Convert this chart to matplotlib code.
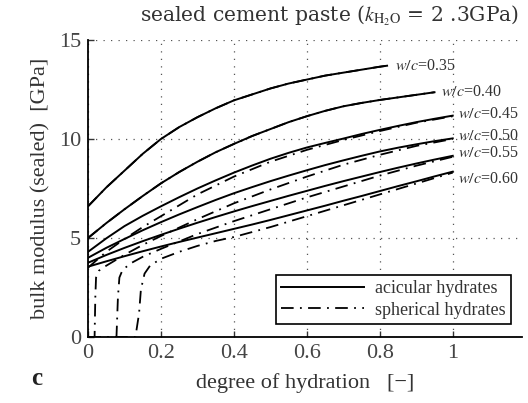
#!/usr/bin/env python

import matplotlib
matplotlib.use("Agg")
import matplotlib.pyplot as plt

plt.rcParams['font.family'] = ['Liberation Serif', 'DejaVu Serif']
plt.rcParams['mathtext.fontset'] = 'stix'

# degree of hydration grid for the acicular curves
alpha = [0.0, 0.05, 0.1, 0.15, 0.2, 0.25, 0.3, 0.35, 0.4, 0.45, 0.5,
         0.55, 0.6, 0.65, 0.7, 0.75, 0.8, 0.85, 0.9, 0.95, 1.0]

acic_035_a = [0.0, 0.05, 0.1, 0.15, 0.2, 0.25, 0.3, 0.35, 0.4, 0.45, 0.5,
              0.55, 0.6, 0.65, 0.7, 0.75, 0.8, 0.82]
acic_035 = [6.6, 7.55, 8.4, 9.25, 10.0, 10.6, 11.1, 11.55, 11.95, 12.25,
            12.55, 12.8, 13.0, 13.2, 13.35, 13.5, 13.65, 13.7]
acic_040 = [5.0, 5.75, 6.45, 7.12, 7.76, 8.33, 8.85, 9.33, 9.75, 10.15,
            10.5, 10.85, 11.15, 11.42, 11.65, 11.82, 11.97, 12.1, 12.23,
            12.36]
acic_045 = [4.3, 4.98, 5.6, 6.12, 6.6, 7.06, 7.5, 7.91, 8.3, 8.66, 9.0,
            9.3, 9.57, 9.8, 10.02, 10.25, 10.46, 10.66, 10.85, 11.02, 11.18]
acic_050 = [4.0, 4.5, 4.95, 5.39, 5.8, 6.19, 6.56, 6.92, 7.26, 7.57, 7.87,
            8.15, 8.42, 8.68, 8.92, 9.15, 9.37, 9.56, 9.73, 9.89, 10.03]
acic_055 = [3.75, 4.14, 4.5, 4.84, 5.16, 5.47, 5.77, 6.06, 6.34, 6.61, 6.87,
            7.13, 7.38, 7.63, 7.87, 8.1, 8.33, 8.55, 8.76, 8.96, 9.15]
acic_060 = [3.55, 3.82, 4.08, 4.33, 4.57, 4.8, 5.02, 5.24, 5.46, 5.68, 5.91,
            6.15, 6.39, 6.63, 6.88, 7.12, 7.37, 7.62, 7.86, 8.11, 8.35]

# spherical hydrates: zero stiffness until the solid skeleton percolates
sph_045_a = [0.0, 0.05, 0.1, 0.15, 0.2, 0.3, 0.4, 0.5, 0.6, 0.7, 0.8, 0.9,
             1.0]
sph_045 = [3.5, 4.3, 4.95, 5.55, 6.1, 7.2, 8.1, 8.85, 9.45, 9.95, 10.4,
           10.82, 11.15]
sph_050_a = [0.0, 0.018, 0.02, 0.022, 0.03, 0.05, 0.1, 0.15, 0.2, 0.3, 0.4,
             0.5, 0.6, 0.7, 0.8, 0.9, 1.0]
sph_050 = [0.0, 0.0, 2.0, 3.0, 3.35, 3.6, 4.15, 4.65, 5.1, 5.95, 6.75, 7.45,
           8.1, 8.7, 9.2, 9.65, 10.0]
sph_055_a = [0.0, 0.078, 0.082, 0.086, 0.095, 0.12, 0.15, 0.2, 0.3, 0.4,
             0.5, 0.6, 0.7, 0.8, 0.9, 1.0]
sph_055 = [0.0, 0.0, 2.0, 3.0, 3.4, 3.75, 4.05, 4.45, 5.2, 5.85, 6.45, 7.05,
           7.6, 8.15, 8.65, 9.1]
sph_060_a = [0.0, 0.13, 0.14, 0.145, 0.155, 0.17, 0.2, 0.25, 0.3, 0.35, 0.4,
             0.5, 0.6, 0.7, 0.8, 0.9, 1.0]
sph_060 = [0.0, 0.0, 1.2, 2.4, 3.2, 3.6, 3.95, 4.3, 4.6, 4.85, 5.05, 5.55,
           6.1, 6.65, 7.2, 7.75, 8.3]

wc_labels = ['0.35', '0.40', '0.45', '0.50', '0.55', '0.60']
label_x = [0.843, 0.967, 1.014, 1.014, 1.014, 1.014]
label_y = [13.7, 12.35, 11.25, 10.15, 9.3, 8.0]

DASHDOT = (0, (7, 3.5, 1, 3.5))


def main():
    fig = plt.figure(figsize=(5.28, 4.03), dpi=100)
    ax = fig.add_axes([0.1667, 0.1638, 0.822, 0.737])

    acicular = [(acic_035_a, acic_035),
                (alpha[:len(acic_040)], acic_040),
                (alpha, acic_045), (alpha, acic_050),
                (alpha, acic_055), (alpha, acic_060)]
    spherical = [(acic_035_a, acic_035),
                 (alpha[:len(acic_040)], acic_040),
                 (sph_045_a, sph_045), (sph_050_a, sph_050),
                 (sph_055_a, sph_055), (sph_060_a, sph_060)]

    for i, (x, y) in enumerate(spherical):
        ax.plot(x, y, color='black', lw=1.3, linestyle=DASHDOT,
                label='spherical hydrates' if i == 0 else None)
    for i, (x, y) in enumerate(acicular):
        ax.plot(x, y, color='black', lw=1.4,
                label='acicular hydrates' if i == 0 else None)

    for lab, lx, ly in zip(wc_labels, label_x, label_y):
        ax.text(lx, ly, r'$w/c$=' + lab, fontsize=11.5, ha='left',
                va='center', color='#333333', clip_on=False)

    ax.set_xlim(0, 1.19)
    ax.set_ylim(0, 15)
    ax.set_xticks([0, 0.2, 0.4, 0.6, 0.8, 1])
    ax.set_xticklabels(['0', '0.2', '0.4', '0.6', '0.8', '1'])
    ax.set_yticks([0, 5, 10, 15])
    ax.tick_params(direction='in', labelsize=16, length=4, width=1,
                   pad=5, colors='#333333', labelcolor='#444444')
    for side in ('top', 'right'):
        ax.spines[side].set_visible(False)
    for side in ('left', 'bottom'):
        ax.spines[side].set_linewidth(1.3)
    ax.grid(True, color='#555555', linestyle=(0, (1, 5)), linewidth=0.9)
    ax.set_axisbelow(True)

    handles, labels = ax.get_legend_handles_labels()
    order = [labels.index('acicular hydrates'),
             labels.index('spherical hydrates')]
    leg = ax.legend([handles[k] for k in order], [labels[k] for k in order],
                    loc='lower right', bbox_to_anchor=(0.975, 0.044),
                    borderaxespad=0, fontsize=13, fancybox=False,
                    framealpha=1, edgecolor='black', handlelength=4.6,
                    borderpad=0.3, labelspacing=0.25, handletextpad=0.6)
    leg.get_frame().set_linewidth(1.2)
    for t in leg.get_texts():
        t.set_color('#333333')

    ax.set_xlabel('degree of hydration   [\u2212]', fontsize=16,
                  color='#333333', labelpad=7)
    ax.set_ylabel('bulk modulus (sealed)  [GPa]', fontsize=16,
                  color='#333333', labelpad=6)

    fig.text(0.625, 0.962, r'sealed cement paste ($k_{\rm H_2O}$ = 2 .3GPa)',
             fontsize=14.6, family='DejaVu Serif', ha='center', va='center',
             color='#333333')
    fig.text(0.07, 0.062, 'c', fontsize=18, fontweight='bold',
             ha='center', va='center', color='#222222')

    fig.savefig('out.png', dpi=100)


if __name__ == "__main__":
    main()
